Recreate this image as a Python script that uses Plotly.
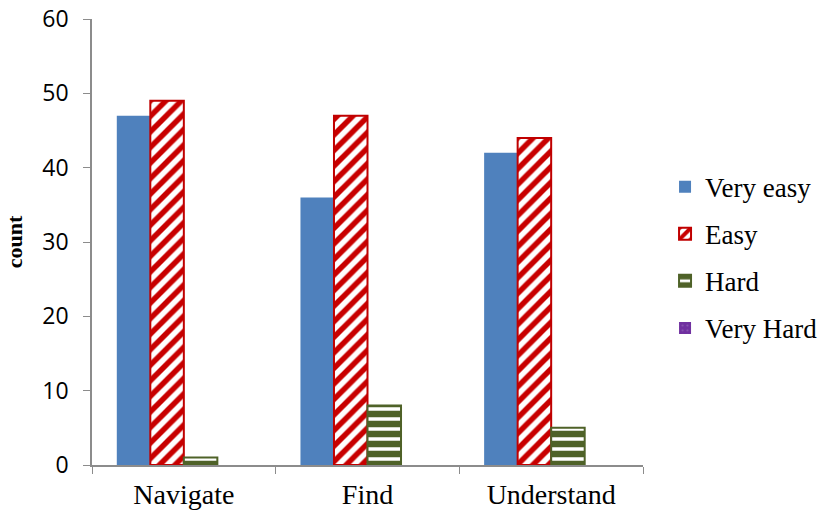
import plotly.graph_objects as go

categories = ["Navigate", "Find", "Understand"]
very_easy = [47, 36, 42]
easy = [49, 47, 44]
hard = [1, 8, 5]
very_hard = [0, 0, 0]

fig = go.Figure()
fig.add_bar(name="Very easy", x=categories, y=very_easy, legendgroup="a",
            marker=dict(color="#4F81BD", line=dict(width=0)))
fig.add_bar(name="Easy", x=categories, y=easy, legendgroup="b",
            marker=dict(color="white", line=dict(color="#C00000", width=2),
                        pattern=dict(shape="/", fgcolor="#C80000", bgcolor="white",
                                     fgopacity=1, size=11, solidity=0.5)))
fig.add_bar(name="Hard", x=categories, y=hard, legendgroup="c",
            marker=dict(color="white", line=dict(color="#4F6228", width=2),
                        pattern=dict(shape="-", fgcolor="#4F6228", bgcolor="white",
                                     fgopacity=1, size=10, solidity=0.65)))
fig.add_bar(name="Very Hard", x=categories, y=very_hard, legendgroup="d",
            marker=dict(color="#7030A0", line=dict(width=0),
                        pattern=dict(shape=".", fgcolor="#A080C0", bgcolor="#7030A0",
                                     size=6, solidity=0.15)))

fig.update_layout(
    width=820, height=511,
    margin=dict(l=92, r=177, t=19, b=46, autoexpand=False),
    paper_bgcolor="white", plot_bgcolor="white",
    barmode="group", bargap=0.27, bargroupgap=0,
    font=dict(family="Liberation Serif", color="black"),
    legend=dict(x=1.04, y=0.465, yanchor="middle", xanchor="left",
                font=dict(family="Liberation Serif", size=27),
                tracegroupgap=9, itemsizing="constant", itemwidth=30),
    showlegend=True,
)
fig.update_xaxes(
    showline=True, linecolor="#8C8C8C", linewidth=1.5, automargin=False,
    ticks="outside", tickson="boundaries", ticklen=7, tickcolor="#8C8C8C",
    tickfont=dict(family="Liberation Serif", size=28), ticklabelstandoff=4,
    showgrid=False,
)
fig.update_yaxes(
    range=[0, 60], dtick=10, showline=True, linecolor="#8C8C8C", linewidth=1.5,
    ticks="outside", ticklen=7, tickcolor="#8C8C8C", showgrid=False, zeroline=False,
    automargin=False, ticklabelstandoff=10,
    tickfont=dict(family="Open Sans", size=23),
    title=dict(text="<b>count</b>", font=dict(family="Liberation Serif", size=22), standoff=14),
)

fig.write_html("out.html")
